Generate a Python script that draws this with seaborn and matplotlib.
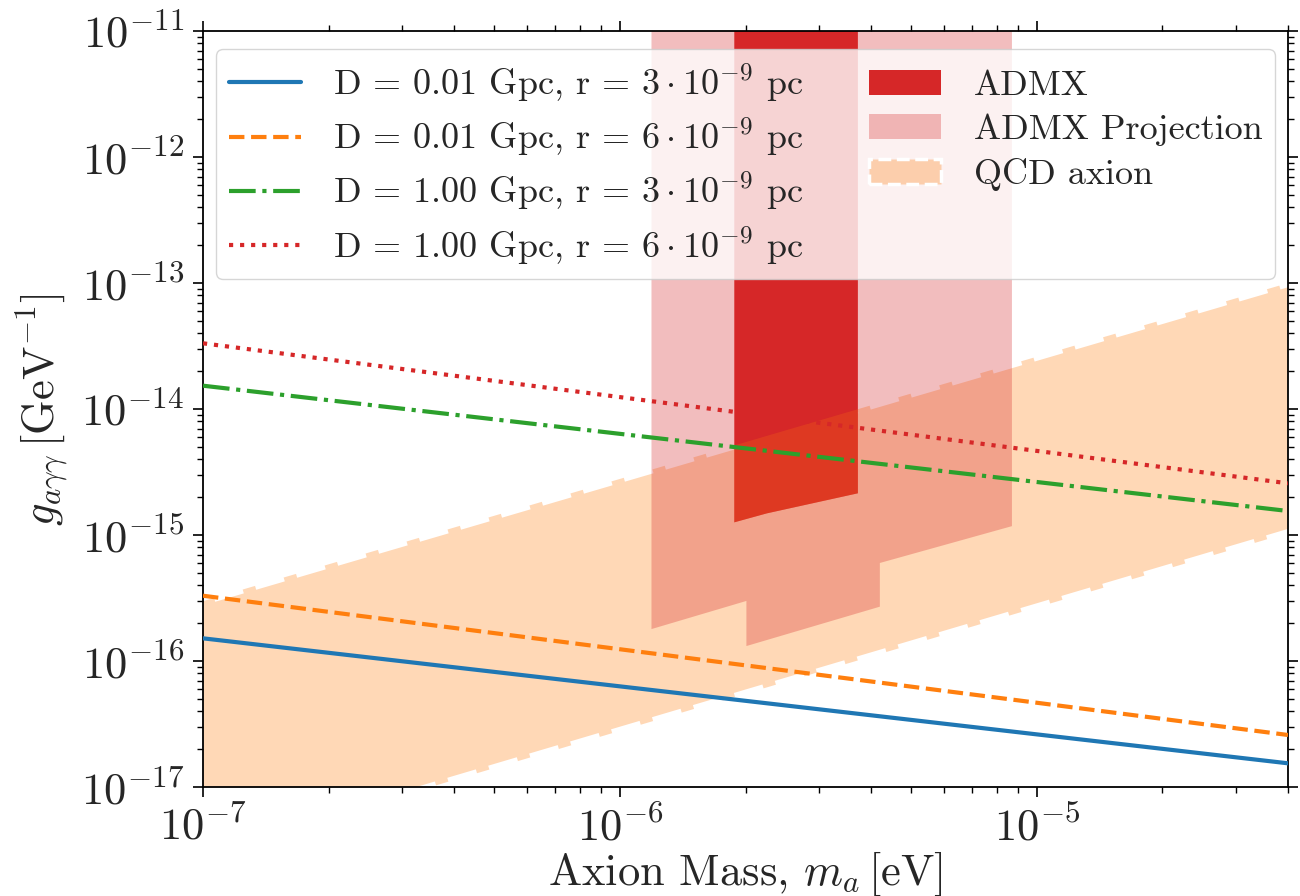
import matplotlib
matplotlib.use("Agg")
import matplotlib.pyplot as plt
from matplotlib.patches import Patch
import seaborn as sns

# ---------------- data ----------------
mass_range = [1e-7, 4e-5]
g_d001_r3 = [1.52e-16, 1.55e-17]
g_d001_r6 = [3.31e-16, 2.60e-17]
g_d100_r3 = [1.535e-14, 1.556e-15]
g_d100_r6 = [3.33e-14, 2.58e-15]
line_labels = [
    r"D = 0.01 Gpc, r = $3 \cdot 10^{-9}$ pc",
    r"D = 0.01 Gpc, r = $6 \cdot 10^{-9}$ pc",
    r"D = 1.00 Gpc, r = $3 \cdot 10^{-9}$ pc",
    r"D = 1.00 Gpc, r = $6 \cdot 10^{-9}$ pc",
]

qcd_mass = [5e-8, 8e-5]
qcd_lower = [1.49e-18, 2.05e-15]
qcd_upper = [1.53e-16, 1.96e-13]

admx_mass = [1.88e-6, 2.25e-6, 3.72e-6]
admx_lower = [1.265e-15, 1.49e-15, 2.15e-15]
admx_upper = [1e-10, 1e-10, 1e-10]

proj_mass = [1.19e-6, 2.01e-6, 2.01e-6, 4.20e-6, 4.20e-6, 8.71e-6]
proj_lower = [1.80e-16, 3.01e-16, 1.32e-16, 2.71e-16, 6.02e-16, 1.18e-15]
proj_upper = [1e-10, 1e-10, 1e-10, 1e-10, 1e-10, 1e-10]

patch_labels = ["ADMX", "ADMX Projection", "QCD axion"]

# ---------------- style ----------------
sns.set_theme(style="ticks")
plt.rcParams.update({
    "font.family": ["cmr10", "DejaVu Serif"],
    "mathtext.fontset": "cm",
    "axes.formatter.use_mathtext": True,
    "axes.unicode_minus": True,
    "axes.linewidth": 1.3,
    "axes.edgecolor": "black",
})

fig = plt.figure(figsize=(13, 8.96), dpi=100)
ax = fig.add_subplot(111)
fig.subplots_adjust(left=203 / 1300, right=1288 / 1300,
                    bottom=1 - 787.3 / 896, top=1 - 31 / 896)
ax.set_xscale("log")
ax.set_yscale("log")

c_blue, c_orange, c_green, c_red = sns.color_palette("tab10")[:4]
qcd_face = (*c_orange, 0.3)
proj_face = (*c_red, 0.3)

# QCD band with white dashed rim (below ADMX)
qcd = ax.fill_between(qcd_mass, qcd_lower, qcd_upper,
                      facecolor=qcd_face, edgecolor="white",
                      linestyle="--", linewidth=5.8, zorder=1.1)
admx = ax.fill_between(admx_mass, admx_lower, admx_upper,
                       facecolor=c_red, edgecolor="none", zorder=1.2)
# band tint on top of ADMX, clipped to the ADMX region
qcd_tint = ax.fill_between(qcd_mass, qcd_lower, qcd_upper,
                           facecolor=qcd_face, edgecolor="none", zorder=1.3)
qcd_tint.set_clip_path(admx.get_paths()[0], transform=ax.transData)
proj = ax.fill_between(proj_mass, proj_lower, proj_upper,
                       facecolor=proj_face, edgecolor="none", zorder=1.6)

series = [g_d001_r3, g_d001_r6, g_d100_r3, g_d100_r6]
colors = [c_blue, c_orange, c_green, c_red]
styles = ["-", "--", "-.", ":"]
for vals, col, ls in zip(series, colors, styles):
    sns.lineplot(x=mass_range, y=vals, color=col, linestyle=ls, linewidth=3,
                 ax=ax, zorder=3, legend=False)

ax.set_xlim(1e-7, 4e-5)
ax.set_ylim(1e-17, 1e-11)

ax.tick_params(which="both", direction="out", top=True, right=True,
               labelsize=32, color="black")
ax.tick_params(which="major", length=7.5, width=1.2, pad=6)
ax.tick_params(which="minor", length=4, width=1.0)

ax.set_xlabel(r"Axion Mass, $m_a\,[\mathrm{eV}]$", fontsize=32, labelpad=0)
ax.set_ylabel(r"$g_{a\gamma\gamma}\,[\mathrm{GeV}^{-1}]$", fontsize=32, labelpad=8)

qcd_handle = Patch(facecolor=qcd_face, edgecolor="white", linestyle="--",
                   linewidth=2.5)
handles = list(ax.lines[:4]) + [admx, proj, qcd_handle]
labels = line_labels + patch_labels
leg = ax.legend(handles, labels, loc="upper center", ncol=2, fontsize=26,
                frameon=True, framealpha=0.8, edgecolor="0.8", fancybox=True,
                handlelength=2.0, handletextpad=0.9, columnspacing=1.8,
                labelspacing=0.33, borderpad=0.35, borderaxespad=0.5)
leg.set_zorder(5)

fig.savefig("out.png", dpi=100)
